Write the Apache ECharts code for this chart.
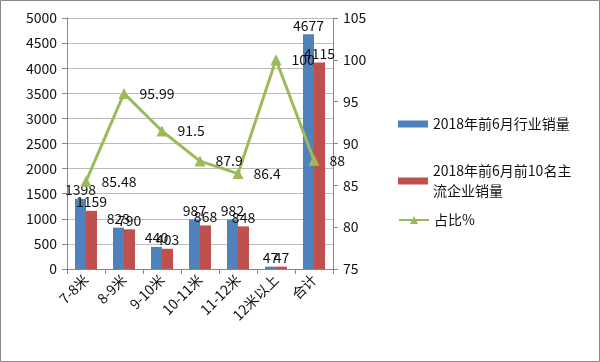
<!DOCTYPE html>
<html><head><meta charset="utf-8">
<script src="https://cdn.jsdelivr.net/npm/echarts@6/dist/echarts.min.js"></script>
<style>html,body{margin:0;padding:0;background:#fff}#c{width:600px;height:362px}</style>
</head><body><div id="c"></div>
<script>
const categories = ['7-8米','8-9米','9-10米','10-11米','11-12米','12米以上','合计'];
const industrySales = [1398, 823, 440, 987, 982, 47, 4677];
const top10Sales = [1159, 790, 403, 868, 848, 47, 4115];
const ratio = [85.48, 95.99, 91.5, 87.9, 86.4, 100, 88];
const seriesNames = ['2018年前6月行业销量', '2018年前6月前10名主流企业销量', '占比%'];

const FONT = '"Noto Sans CJK SC", "Noto Sans", sans-serif';
const legendText = {fontSize: 14, color: '#111', fontFamily: FONT, lineHeight: 20};
const chart = echarts.init(document.getElementById('c'));
chart.setOption({
  animation: false,
  textStyle: {fontFamily: FONT},
  graphic: [{type: 'rect', shape: {x: 0.5, y: 0.5, width: 599, height: 361}, style: {fill: 'none', stroke: '#888', lineWidth: 1}, z: -1}],
  grid: {left: 67, right: 267, top: 18, bottom: 93},
  legend: [{
    left: 393, top: 109, itemWidth: 30, itemHeight: 7, icon: 'rect', textStyle: legendText,
    data: [seriesNames[0]]
  }, {
    left: 393, top: 156, itemWidth: 30, itemHeight: 7, icon: 'rect', textStyle: legendText,
    formatter: function () { return '2018年前6月前10名主\n流企业销量'; },
    data: [seriesNames[1]]
  }, {
    left: 393, top: 205, itemWidth: 30, itemHeight: 10, textStyle: legendText,
    data: [seriesNames[2]]
  }],
  xAxis: {
    type: 'category', data: categories,
    axisLine: {lineStyle: {color: '#888'}},
    axisTick: {show: true, alignWithLabel: false, length: 5, lineStyle: {color: '#888'}},
    axisLabel: {rotate: 45, fontSize: 14, color: '#111', margin: 8, interval: 0}
  },
  yAxis: [{
    type: 'value', min: 0, max: 5000, interval: 500,
    axisLine: {show: true, lineStyle: {color: '#888'}},
    axisTick: {show: true, length: 5, lineStyle: {color: '#888'}},
    splitLine: {lineStyle: {color: '#bbb'}},
    axisLabel: {fontSize: 14, color: '#111', margin: 10, formatter: function (v) { return String(v); }}
  }, {
    type: 'value', min: 75, max: 105, interval: 5,
    axisLine: {show: true, lineStyle: {color: '#888'}},
    axisTick: {show: true, length: 5, lineStyle: {color: '#888'}},
    splitLine: {show: false},
    axisLabel: {fontSize: 14, color: '#111', margin: 10}
  }],
  series: [{
    name: seriesNames[0], type: 'bar', data: industrySales, barGap: '0%', barCategoryGap: '42%',
    itemStyle: {color: '#4F81BD'},
    label: {show: true, position: 'top', fontSize: 14, color: '#111', distance: 2}
  }, {
    name: seriesNames[1], type: 'bar', data: top10Sales,
    itemStyle: {color: '#C0504D'},
    label: {show: true, position: 'top', fontSize: 14, color: '#111', distance: 2}
  }, {
    name: seriesNames[2], type: 'line', yAxisIndex: 1, data: ratio,
    symbol: 'triangle', symbolSize: 11,
    itemStyle: {color: '#9BBB59'}, lineStyle: {color: '#9BBB59', width: 3},
    label: {show: true, position: 'right', fontSize: 14, color: '#111', distance: 10}
  }]
});
</script></body></html>
